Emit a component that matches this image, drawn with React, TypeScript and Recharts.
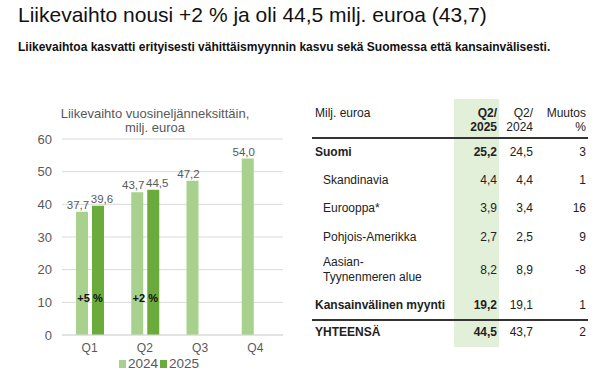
import React from 'react';
import { BarChart, Bar, XAxis, YAxis, CartesianGrid, Legend, LabelList } from 'recharts';

const quarters = ['Q1', 'Q2', 'Q3', 'Q4'];
const sales2024 = [37.7, 43.7, 47.2, 54.0];
const sales2025: (number | null)[] = [39.6, 44.5, null, null];
const growth: (string | null)[] = ['+5 %', '+2 %', null, null];
const yTicks = [0, 10, 20, 30, 40, 50, 60];

const rowNames = ['Suomi', 'Skandinavia', 'Eurooppa*', 'Pohjois-Amerikka', 'Aasian-\nTyynenmeren alue', 'Kansainvälinen myynti', 'YHTEENSÄ'];
const rowQ2025 = ['25,2', '4,4', '3,9', '2,7', '8,2', '19,2', '44,5'];
const rowQ2024 = ['24,5', '4,4', '3,4', '2,5', '8,9', '19,1', '43,7'];
const rowChange = ['3', '1', '16', '9', '-8', '1', '2'];
const rowBold = [true, false, false, false, false, true, true];
const rowY = [152, 180, 208, 237, 270, 305, 332];

const LIGHT = '#a9d18e';
const DARK = '#6aab3c';
const GRAY = '#595959';
const FONT = '"Liberation Sans", Arial, sans-serif';

const data = quarters.map((q, i) => ({ q, y2024: sales2024[i], y2025: sales2025[i], growth: growth[i] }));

const fmt = (v: any) => (v == null ? '' : Number(v).toFixed(1).replace('.', ','));

const GrowthLabel = (props: any) => {
  const { x, y, width, height, index } = props;
  const g = growth[index];
  if (!g) return null;
  const base = y + height;
  const ly = base - (height * 11) / sales2024[index];
  return (
    <text x={x + width + 2} y={ly} textAnchor="middle" dominantBaseline="middle" fontSize={11} fontWeight={700} fill="#111">
      {g}
    </text>
  );
};

const LegendContent = (props: any) => (
  <div style={{ display: 'flex', justifyContent: 'center', fontSize: 13.5, lineHeight: '14px', color: GRAY, paddingLeft: 37 }}>
    {(props.payload || []).map((p: any) => (
      <span key={p.value} style={{ display: 'inline-flex', alignItems: 'center', marginRight: 2 }}>
        <span style={{ display: 'inline-block', width: 7, height: 8, background: p.color, marginRight: 2 }} />
        {p.value}
      </span>
    ))}
  </div>
);

const App: React.FC = () => {
  return (
    <div style={{ position: 'absolute', left: 0, top: 0, width: 599, height: 371, background: '#fff', fontFamily: FONT, overflow: 'hidden' }}>
      <div style={{ position: 'absolute', left: 18, top: 3, fontSize: 21, color: '#111', whiteSpace: 'nowrap' }}>
        Liikevaihto nousi +2 % ja oli 44,5 milj. euroa (43,7)
      </div>
      <div style={{ position: 'absolute', left: 18, top: 40, fontSize: 12, fontWeight: 700, color: '#111', whiteSpace: 'nowrap' }}>
        Liikevaihtoa kasvatti erityisesti vähittäismyynnin kasvu sekä Suomessa että kansainvälisesti.
      </div>

      <div style={{ position: 'absolute', left: 55, top: 107, width: 200, textAlign: 'center', fontSize: 13, lineHeight: '14px', color: GRAY }}>
        Liikevaihto vuosineljänneksittäin,<br />milj. euroa
      </div>

      <div style={{ position: 'absolute', left: 0, top: 130 }}>
        <BarChart width={300} height={241} data={data} margin={{ top: 9, right: 17, left: 0, bottom: 0 }} barSize={12} barGap={4}>
          <CartesianGrid vertical={false} stroke="#d9d9d9" />
          <XAxis dataKey="q" height={22} tickLine={false} axisLine={{ stroke: '#d9d9d9' }} tick={{ fill: GRAY, fontSize: 12 }} tickMargin={2} />
          <YAxis domain={[0, 60]} ticks={yTicks} width={62} tickLine={false} axisLine={false} tickSize={0} tickMargin={10} tick={{ fill: GRAY, fontSize: 13 }} />
          <Legend verticalAlign="bottom" content={LegendContent} wrapperStyle={{ height: 14 }} />
          <Bar dataKey="y2024" name="2024" fill={LIGHT} isAnimationActive={false}>
            <LabelList dataKey="y2024" position="top" offset={3} dx={-4} formatter={fmt} style={{ fill: GRAY, fontSize: 11.5 }} />
            <LabelList dataKey="growth" content={GrowthLabel} />
          </Bar>
          <Bar dataKey="y2025" name="2025" fill={DARK} isAnimationActive={false}>
            <LabelList dataKey="y2025" position="top" offset={3} dx={4} formatter={fmt} style={{ fill: GRAY, fontSize: 11.5 }} />
          </Bar>
        </BarChart>
      </div>

      <div style={{ position: 'absolute', left: 454, top: 99, width: 45, height: 248, background: '#e2efd9' }} />
      <div style={{ position: 'absolute', left: 315, top: 106, fontSize: 12, color: '#222' }}>Milj. euroa</div>
      <div style={{ position: 'absolute', left: 437, width: 60, top: 106, fontSize: 12, lineHeight: '14px', fontWeight: 700, textAlign: 'right', color: '#222' }}>
        Q2/<br />2025
      </div>
      <div style={{ position: 'absolute', left: 473, width: 60, top: 106, fontSize: 12, lineHeight: '14px', textAlign: 'right', color: '#222' }}>
        Q2/<br />2024
      </div>
      <div style={{ position: 'absolute', left: 526, width: 60, top: 106, fontSize: 12, lineHeight: '14px', textAlign: 'right', color: '#222' }}>
        Muutos<br />%
      </div>
      <div style={{ position: 'absolute', left: 312, top: 137, width: 276, height: 1.5, background: '#333' }} />
      <div style={{ position: 'absolute', left: 312, top: 319, width: 276, height: 1.5, background: '#333' }} />

      {rowNames.map((name, i) => {
        const bold = rowBold[i];
        const lines = name.split('\n');
        const lh = 15;
        const top = rowY[i] - (lines.length * lh) / 2;
        return (
          <React.Fragment key={name}>
            <div style={{ position: 'absolute', left: bold ? 315 : 323, top, fontSize: 12, lineHeight: `${lh}px`, fontWeight: bold ? 700 : 400, color: '#222', whiteSpace: 'nowrap' }}>
              {lines.map((l) => (
                <div key={l}>{l}</div>
              ))}
            </div>
            <div style={{ position: 'absolute', left: 437, width: 60, top: rowY[i] - 7.5, fontSize: 12, lineHeight: '15px', fontWeight: bold ? 700 : 400, textAlign: 'right', color: '#222' }}>
              {rowQ2025[i]}
            </div>
            <div style={{ position: 'absolute', left: 473, width: 60, top: rowY[i] - 7.5, fontSize: 12, lineHeight: '15px', textAlign: 'right', color: '#222' }}>
              {rowQ2024[i]}
            </div>
            <div style={{ position: 'absolute', left: 526, width: 60, top: rowY[i] - 7.5, fontSize: 12, lineHeight: '15px', textAlign: 'right', color: '#222' }}>
              {rowChange[i]}
            </div>
          </React.Fragment>
        );
      })}
    </div>
  );
};

export default App;
